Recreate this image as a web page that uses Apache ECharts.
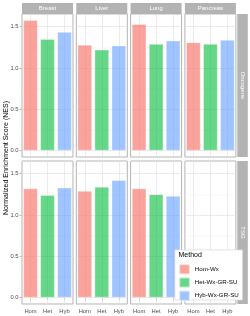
<!DOCTYPE html>
<html><head><meta charset="utf-8">
<script src="https://cdn.jsdelivr.net/npm/echarts@6/dist/echarts.min.js"></script>
<style>html,body{margin:0;padding:0;background:#fff}#c{width:250px;height:316px}</style>
</head><body><div id="c"></div>
<script>
const categories = ['Hom', 'Het', 'Hyb'];
const tissues = ['Breast', 'Liver', 'Lung', 'Pancreas'];
const rowNames = ['Oncogene', 'TSG'];
const methods = ['Hom-Wx', 'Het-Wx-GR-SU', 'Hyb-Wx-GR-SU'];
const yTicks = [0, 0.5, 1.0, 1.5];
const yMinor = [0.25, 0.75, 1.25];
// values per tissue (Breast, Liver, Lung, Pancreas)
const homOncogene = [1.58, 1.28, 1.53, 1.31];
const hetOncogene = [1.35, 1.22, 1.29, 1.29];
const hybOncogene = [1.435, 1.27, 1.33, 1.34];
const homTSG = [1.32, 1.29, 1.32, null];
const hetTSG = [1.24, 1.34, 1.25, null];
const hybTSG = [1.33, 1.42, 1.23, null];

const values = [[homOncogene, hetOncogene, hybOncogene], [homTSG, hetTSG, hybTSG]];
const fills = ['rgba(248,118,109,0.68)', 'rgba(0,186,56,0.6)', 'rgba(97,156,255,0.6)'];
const borders = ['rgba(255,255,255,0.55)', 'rgba(255,255,255,0.55)', 'rgba(255,255,255,0.55)'];
const FONT = 'Liberation Sans';

const colLeft = [22, 76.3, 130.6, 184.9];
const panelW = 51;
const rowTop = [14, 161];
const panelH = 143;
const yMin = -0.079, yMax = 1.654;

const grid = [], xAxis = [], yAxis = [], series = [], graphic = [];
let g = 0;
for (let r = 0; r < 2; r++) {
  for (let c = 0; c < 4; c++) {
    grid.push({left: colLeft[c], top: rowTop[r], width: panelW, height: panelH,
      show: true, borderColor: '#B3B3B3', borderWidth: 1, backgroundColor: '#fff', containLabel: false});
    const bottom = r === 1;
    xAxis.push({type: 'category', gridIndex: g, data: categories, boundaryGap: true,
      axisLine: {show: false},
      axisTick: {show: bottom, alignWithLabel: true, length: 2.5, lineStyle: {color: '#B3B3B3', width: 0.8}},
      axisLabel: {show: bottom, margin: 4, fontSize: 5.8, color: '#4D4D4D', fontFamily: FONT},
      splitLine: {show: false}});
    const first = c === 0;
    yAxis.push({type: 'value', gridIndex: g, min: yMin, max: yMax, splitNumber: 4,
      axisLine: {show: false},
      axisTick: {show: first, length: 2.5, lineStyle: {color: '#B3B3B3', width: 0.8}},
      axisLabel: {show: first, margin: 3.5, fontSize: 5.8, color: '#4D4D4D', fontFamily: FONT,
        showMinLabel: false, showMaxLabel: false,
        formatter: v => yTicks.some(t => Math.abs(t - v) < 1e-6) ? v.toFixed(1) : ''},
      splitLine: {show: true, lineStyle: {color: '#DEDEDE', width: 0.6}}});
    // grid lines at category centres and minor y values
    series.push({type: 'line', xAxisIndex: g, yAxisIndex: g, data: [], silent: true, z: 1,
      markLine: {silent: true, symbol: 'none', z: 1, label: {show: false},
        lineStyle: {color: '#DEDEDE', width: 0.6, type: 'solid'},
        data: categories.map(cat => ({xAxis: cat})).concat(
          yMinor.map(v => ({yAxis: v, lineStyle: {color: '#EBEBEB', width: 0.4, type: 'solid'}})))}});
    for (let m = 0; m < 3; m++) {
      const v = values[r][m][c];
      series.push({type: 'bar', name: methods[m], xAxisIndex: g, yAxisIndex: g, z: 10,
        barWidth: 14.3, barGap: '-100%',
        itemStyle: {color: fills[m], borderColor: borders[m], borderWidth: 0.6},
        data: categories.map((cat, i) => (i === m && v != null) ? v : '-')});
    }
    g++;
  }
}
// column strips
tissues.forEach((t, c) => {
  graphic.push({type: 'rect', left: colLeft[c], top: 3, shape: {width: panelW, height: 11},
    style: {fill: '#B3B3B3'}, z: 1});
  graphic.push({type: 'text', x: colLeft[c] + panelW / 2, y: 8.6,
    style: {text: t, fill: '#fff', font: '6px "' + FONT + '"', textAlign: 'center', textVerticalAlign: 'middle'}, z: 2});
});
// row strips
rowNames.forEach((t, r) => {
  graphic.push({type: 'rect', left: 237.3, top: rowTop[r], shape: {width: 10.5, height: panelH},
    style: {fill: '#B3B3B3'}, z: 1});
  graphic.push({type: 'text', x: 242.5, y: rowTop[r] + panelH / 2, rotation: -Math.PI / 2,
    style: {text: t, fill: '#fff', font: '6px "' + FONT + '"', textAlign: 'center', textVerticalAlign: 'middle'}, z: 2});
});
// y axis title
graphic.push({type: 'text', x: 6.5, y: 158, rotation: Math.PI / 2,
  style: {text: 'Normalized Enrichment Score (NES)', fill: '#000', font: '7px "' + FONT + '"', textAlign: 'center', textVerticalAlign: 'middle'}, z: 2});
// legend box
graphic.push({type: 'rect', left: 174.5, top: 249.5, shape: {width: 67.5, height: 50},
  style: {fill: '#fff', stroke: '#DCDCDC', lineWidth: 0.8}, z: 20});

const option = {
  animation: false,
  grid, xAxis, yAxis, series, graphic,
  title: {text: 'Method', left: 178.5, top: 252, padding: 0, z: 30,
    textStyle: {fontSize: 7, fontWeight: 'normal', color: '#000', fontFamily: FONT}},
  legend: {data: methods, orient: 'vertical', left: 178.3, top: 263.3, padding: 0, itemGap: 1.2,
    itemWidth: 10.5, itemHeight: 10, icon: 'rect', z: 30, selectedMode: false,
    textStyle: {fontSize: 6.2, color: '#000', fontFamily: FONT}}
};
const chart = echarts.init(document.getElementById('c'), null, {renderer: 'canvas'});
chart.setOption(option);
</script></body></html>
